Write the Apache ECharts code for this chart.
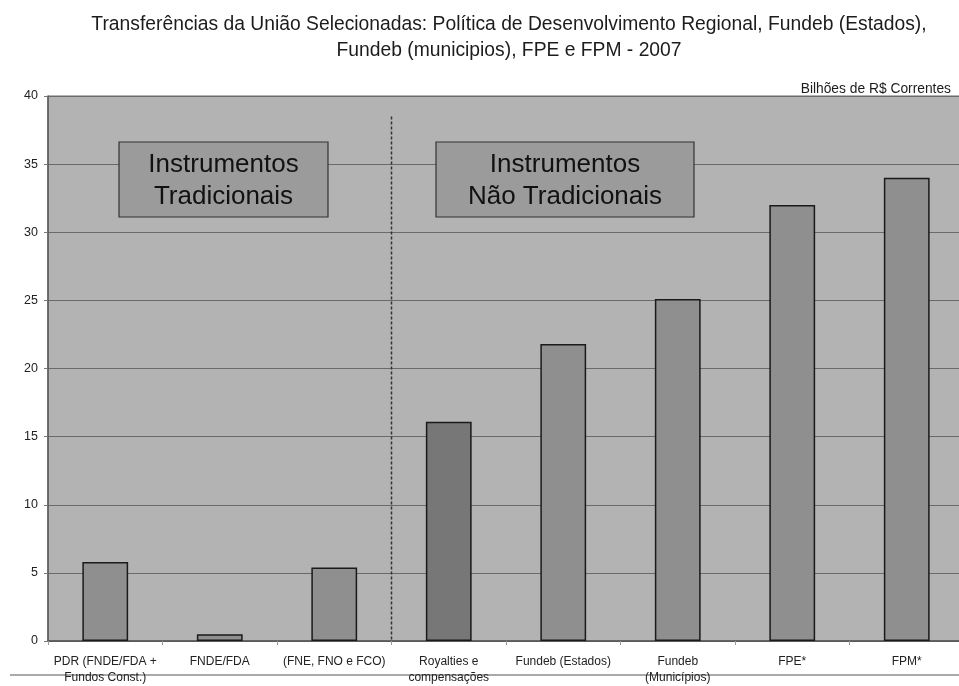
<!DOCTYPE html>
<html>
<head>
<meta charset="utf-8">
<script src="https://cdn.jsdelivr.net/npm/echarts@6/dist/echarts.min.js"></script>
<style>
  html, body { margin: 0; padding: 0; background: #fff; overflow: hidden; }
  #chart { width: 966px; height: 686px; }
</style>
</head>
<body>
<div id="chart"></div>
<script>
// Transferências da União, 2007 (bilhões de R$ correntes)
const categories = [
  'PDR (FNDE/FDA +\nFundos Const.)',
  'FNDE/FDA',
  '(FNE, FNO e FCO)',
  'Royalties e\ncompensações',
  'Fundeb (Estados)',
  'Fundeb\n(Municípios)',
  'FPE*',
  'FPM*'
];
const values = [5.8, 0.5, 5.4, 16.1, 21.8, 25.1, 32.0, 34.0];
const yTicks = [0, 5, 10, 15, 20, 25, 30, 35, 40];

const barColor = '#8f8f8f';
const darkBarColor = '#777777';
const FONT = 'Liberation Sans, Arial, sans-serif';

const chart = echarts.init(document.getElementById('chart'));

const option = {
  backgroundColor: '#ffffff',
  animation: false,
  textStyle: { fontFamily: FONT },
  title: [{
    text: 'Transferências da União Selecionadas: Política de Desenvolvimento Regional, Fundeb (Estados),\nFundeb (municipios), FPE e FPM - 2007',
    left: 504,
    top: 7,
    textAlign: 'center',
    textStyle: { fontSize: 19.3, fontWeight: 'normal', color: '#1c1c1c', lineHeight: 26, fontFamily: FONT }
  }, {
    text: 'Bilhões de R$ Correntes',
    right: 10,
    top: 77,
    textStyle: { fontSize: 13.8, fontWeight: 'normal', color: '#1c1c1c', fontFamily: FONT }
  }],
  grid: {
    left: 48, top: 96, width: 916, height: 545,
    show: true, backgroundColor: '#b3b3b3', borderColor: '#6a6a6a', borderWidth: 1
  },
  xAxis: {
    type: 'category',
    data: categories,
    axisLine: { lineStyle: { color: '#555', width: 1.5 } },
    axisTick: { show: true, alignWithLabel: false, length: 4, lineStyle: { color: '#999' } },
    axisLabel: { color: '#222', fontSize: 12, lineHeight: 16, margin: 13, interval: 0 }
  },
  yAxis: {
    type: 'value',
    min: yTicks[0], max: yTicks[yTicks.length - 1], interval: 5,
    axisLine: { show: true, lineStyle: { color: '#5a5a5a', width: 1.5 } },
    axisTick: { show: true, length: 4, lineStyle: { color: '#777' } },
    axisLabel: { color: '#222', fontSize: 12.5, margin: 10 },
    splitLine: { show: true, lineStyle: { color: '#6a6a6a', width: 1 } }
  },
  series: [{
    type: 'bar',
    data: values.map((v, i) => ({
      value: v,
      itemStyle: { color: i === 3 ? darkBarColor : barColor }
    })),
    barWidth: '40%',
    itemStyle: { borderColor: '#1a1a1a', borderWidth: 1.5 }
  }]
};

chart.setOption(option);

// Separator between the two groups and the group captions
const sepX = (chart.convertToPixel({ xAxisIndex: 0 }, 2) + chart.convertToPixel({ xAxisIndex: 0 }, 3)) / 2;
const yTop = chart.convertToPixel({ yAxisIndex: 0 }, 38.5);
const yBase = chart.convertToPixel({ yAxisIndex: 0 }, 0);

function captionBox(x, y, w, h, text) {
  return {
    type: 'group',
    children: [{
      type: 'rect',
      shape: { x: x, y: y, width: w, height: h },
      style: { fill: '#9b9b9b', stroke: '#333', lineWidth: 1.2 }
    }, {
      type: 'text',
      style: {
        x: x + w / 2, y: y + h / 2 + 1, text: text,
        align: 'center', verticalAlign: 'middle',
        fontSize: 26, lineHeight: 32, fill: '#111',
        fontFamily: FONT
      }
    }]
  };
}

chart.setOption({
  graphic: [
    {
      type: 'line',
      shape: { x1: sepX, y1: yTop, x2: sepX, y2: yBase },
      style: { stroke: '#333', lineWidth: 1.5, lineDash: [3, 2] }
    },
    captionBox(119, 142, 209, 75, 'Instrumentos\nTradicionais'),
    captionBox(436, 142, 258, 75, 'Instrumentos\nNão Tradicionais'),
    {
      type: 'line',
      shape: { x1: 10, y1: 675, x2: 966, y2: 675 },
      style: { stroke: '#555', lineWidth: 1 }
    }
  ]
});
</script>
</body>
</html>
